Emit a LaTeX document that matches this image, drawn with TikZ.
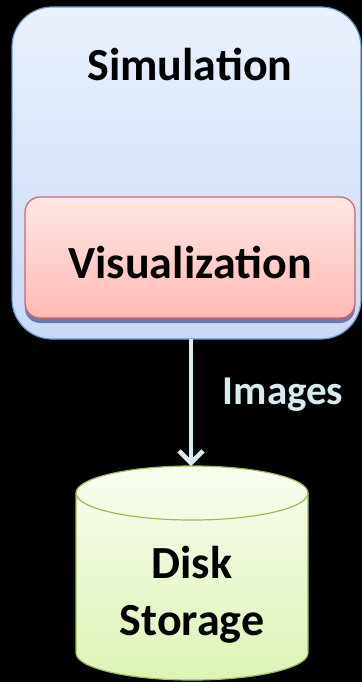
\documentclass[tikz,border=0pt]{standalone}
\usepackage{fontspec}
\setmainfont{Carlito}
\usetikzlibrary{arrows.meta,shadows,calc}
\definecolor{simtop}{HTML}{EAF1FD}
\definecolor{simbot}{HTML}{C8DAF8}
\definecolor{simline}{HTML}{6A92C8}
\definecolor{vistop}{HTML}{FFE7E5}
\definecolor{visbot}{HTML}{FFB9B4}
\definecolor{visline}{HTML}{CF6660}
\definecolor{disktop}{HTML}{F9FDF0}
\definecolor{diskbot}{HTML}{DDF4B5}
\definecolor{diskline}{HTML}{9BBB59}
\definecolor{arrowcol}{HTML}{D8EBF1}
\tikzset{
  x=1pt, y=-1pt,
  lbl/.style={font=\bfseries\fontsize{46}{57}\selectfont, text=black, align=center, inner sep=0pt},
  simbox/.style={draw=simline, line width=1.2pt, rounded corners=40pt, top color=simtop, bottom color=simbot,
    drop shadow={shadow xshift=0pt, shadow yshift=-4pt, opacity=0.5, fill=black}},
  visbox/.style={draw=visline, line width=1.2pt, rounded corners=15pt, top color=vistop, bottom color=visbot,
    drop shadow={shadow xshift=0pt, shadow yshift=-5pt, opacity=0.45, fill=black!70!blue}},
  flow/.style={draw=arrowcol, line width=4.5pt, -{Straight Barb[length=12pt,width=24pt]}},
}
\begin{document}
\begin{tikzpicture}
\fill[black] (0,0) rectangle (362,682);
\useasboundingbox (0,0) rectangle (362,682);
% Simulation box
\path[simbox] (12,7) rectangle (361,339);
\coordinate (simbottom) at (191,339);
\node[lbl] (simlabel) at (190,64) {Simulation};
% Visualization box
\path[visbox] (25,197) rectangle (355,318);
\node[lbl] (vislabel) at (190,262) {Visualization};
% Disk storage cylinder
\path[draw=diskline, line width=1.2pt, top color=disktop, bottom color=diskbot]
  (76,493) -- (76,653) arc[start angle=180, end angle=360, x radius=116pt, y radius=27pt]
  -- (308,493) arc[start angle=0, end angle=180, x radius=116pt, y radius=27pt] -- cycle;
\draw[diskline, line width=1.2pt] (76,493) arc[start angle=180, end angle=360, x radius=116pt, y radius=27pt];
\coordinate (disktopc) at (191,466);
\node[lbl] (disklabel) at (192,595) {Disk\\Storage};
% Arrow
\draw[flow] (simbottom) -- (disktopc);
\node[font=\bfseries\fontsize{41}{50}\selectfont, text=arrowcol, inner sep=0pt] (imglabel) at (283,395) {Images};
\end{tikzpicture}
\end{document}
